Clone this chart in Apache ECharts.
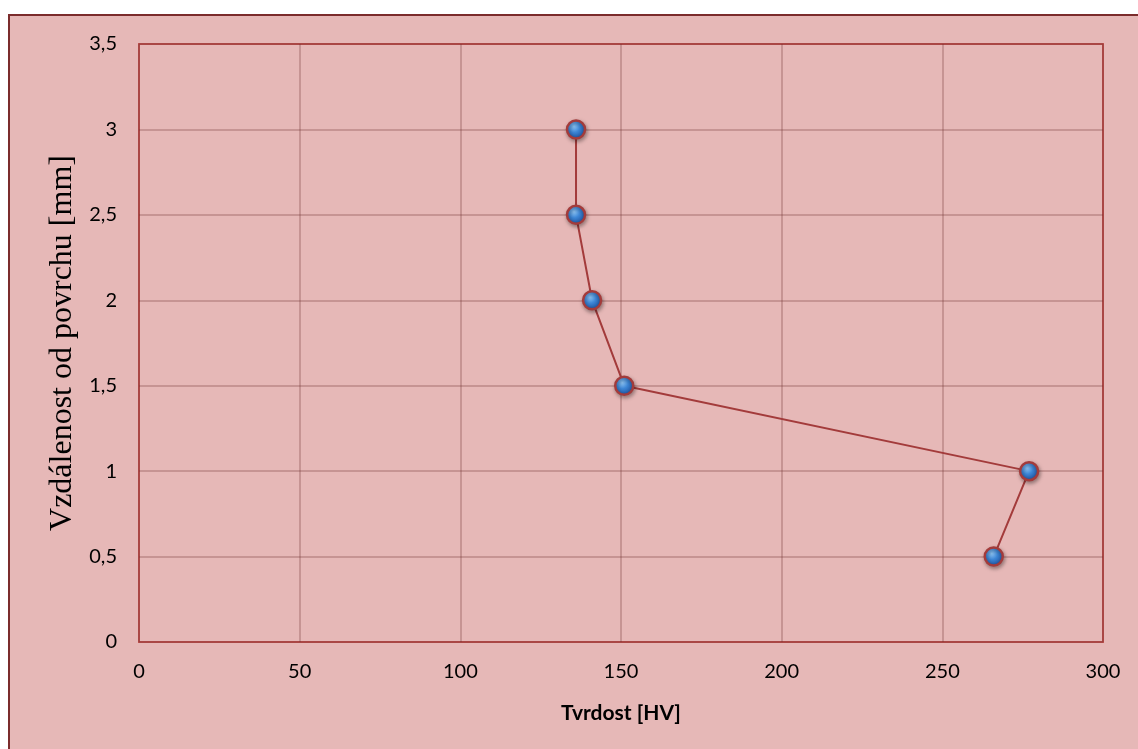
<!DOCTYPE html>
<html><head><meta charset="utf-8">
<script src="https://cdn.jsdelivr.net/npm/echarts@6/dist/echarts.min.js"></script>
<style>
html,body{margin:0;padding:0;width:1138px;height:749px;overflow:hidden;background:#fff;}
#frame{position:absolute;left:8px;top:14px;width:1140px;height:750px;background:#E6B8B7;border-left:2px solid #7B2C2C;border-top:2px solid #7B2C2C;box-sizing:border-box;}
#chart{position:absolute;left:0;top:0;width:1138px;height:749px;}
</style></head>
<body>
<div id="frame"></div>
<div id="chart"></div>
<script>
const hardness = [266, 277, 151, 141, 136, 136];
const depth = [0.5, 1, 1.5, 2, 2.5, 3];
const xTitle = 'Tvrdost [HV]';
const yTitle = 'Vzdálenost od povrchu [mm]';

const chart = echarts.init(document.getElementById('chart'));
const fmt = v => String(v).replace('.', ',');
chart.setOption({
  backgroundColor: 'transparent',
  animation: false,
  grid: {left: 139, right: 35, top: 44, bottom: 107, show: true, borderColor: '#C0504D', borderWidth: 2, backgroundColor: 'transparent'},
  xAxis: {
    type: 'value', min: 0, max: 300, interval: 50,
    name: xTitle, nameLocation: 'middle', nameGap: 61,
    nameTextStyle: {fontFamily: 'Lato, sans-serif', fontSize: 21, fontWeight: 'bold', color: '#000'},
    axisLine: {show: false}, axisTick: {show: false},
    axisLabel: {fontFamily: 'Lato, sans-serif', fontSize: 20, color: '#000', margin: 20, formatter: fmt},
    splitLine: {show: true, lineStyle: {color: 'rgba(110,50,50,0.35)', width: 1.5}}
  },
  yAxis: {
    type: 'value', min: 0, max: 3.5, interval: 0.5,
    name: yTitle, nameLocation: 'middle', nameGap: 55,
    nameTextStyle: {fontFamily: '"Liberation Serif", serif', fontSize: 32, color: '#000'},
    axisLine: {show: false}, axisTick: {show: false},
    axisLabel: {fontFamily: 'Lato, sans-serif', fontSize: 20, color: '#000', margin: 22, formatter: fmt},
    splitLine: {show: true, lineStyle: {color: 'rgba(110,50,50,0.35)', width: 1.5}}
  },
  series: [{
    type: 'line',
    data: hardness.map((h, i) => [h, depth[i]]),
    symbol: 'circle', symbolSize: 18,
    lineStyle: {color: '#A33B3B', width: 2},
    itemStyle: {
      color: new echarts.graphic.RadialGradient(0.4, 0.35, 0.65, [
        {offset: 0, color: '#8EC5F5'},
        {offset: 0.45, color: '#3D86D6'},
        {offset: 1, color: '#1D4E9A'}
      ]),
      borderColor: '#A33B3B', borderWidth: 2.5,
      shadowColor: 'rgba(0,0,0,0.35)', shadowBlur: 4, shadowOffsetX: 1, shadowOffsetY: 2
    },
    z: 5
  }]
});
</script>
</body></html>
